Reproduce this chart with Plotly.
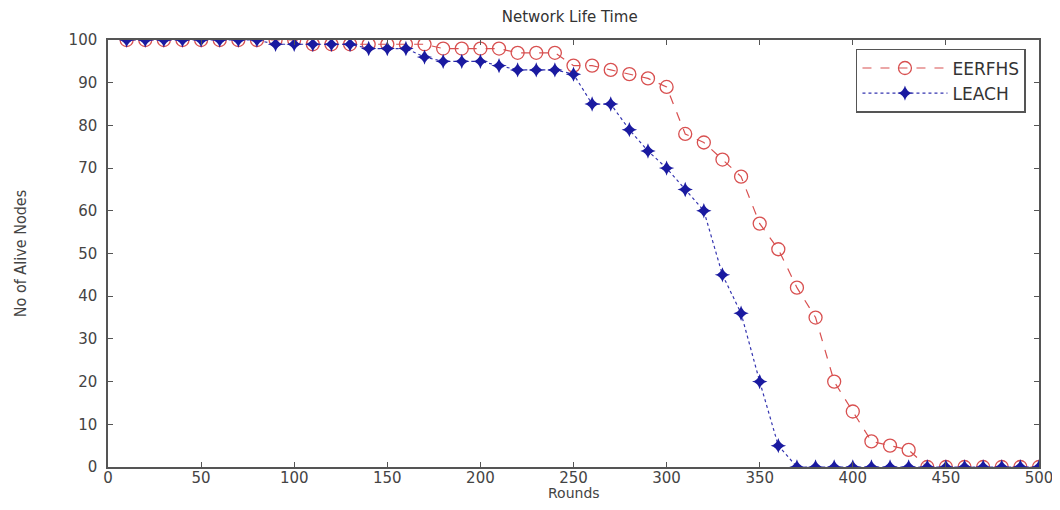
import plotly.graph_objects as go

rounds = list(range(10, 510, 10))
eerfhs = [100, 100, 100, 100, 100, 100, 100, 100, 100, 100,
          99, 99, 99, 99, 99, 99, 99, 98, 98, 98,
          98, 97, 97, 97, 94, 94, 93, 92, 91, 89,
          78, 76, 72, 68, 57, 51, 42, 35, 20, 13,
          6, 5, 4, 0, 0, 0, 0, 0, 0, 0]
leach = [100, 100, 100, 100, 100, 100, 100, 100, 99, 99,
         99, 99, 99, 98, 98, 98, 96, 95, 95, 95,
         94, 93, 93, 93, 92, 85, 85, 79, 74, 70,
         65, 60, 45, 36, 20, 5, 0, 0, 0, 0,
         0, 0, 0, 0, 0, 0, 0, 0, 0, 0]
x_ticks = list(range(0, 501, 50))
y_ticks = list(range(0, 101, 10))

TXT = "#444444"
fig = go.Figure()
fig.add_trace(go.Scatter(
    x=rounds, y=eerfhs, name="EERFHS", mode="lines+markers",
    line=dict(color="#d85050", width=1.2, dash="dash"),
    marker=dict(symbol="circle-open", size=13, color="#d85050", line=dict(width=1.3)),
))
fig.add_trace(go.Scatter(
    x=rounds, y=leach, name="LEACH", mode="lines+markers",
    line=dict(color="#3535b0", width=1.2, dash="dot"),
    marker=dict(symbol="star-diamond", size=11, color="#1a1aa0"),
))

axis_common = dict(
    showline=True, linecolor="#555555", linewidth=1.5, mirror="ticks",
    ticks="inside", ticklen=5, tickcolor="#555555", showgrid=False, zeroline=False,
    tickfont=dict(family="DejaVu Sans", size=15, color=TXT), automargin=False,
    ticklabeloverflow="allow",
)
fig.update_xaxes(range=[0, 500], tickvals=x_ticks, ticklabelstandoff=-4, **axis_common)
fig.update_yaxes(range=[0, 100], tickvals=y_ticks, ticklabelstandoff=6, **axis_common,
                 title=dict(text="No of Alive Nodes",
                            font=dict(family="DejaVu Sans Condensed, Liberation Sans Narrow, Liberation Sans", size=16, color=TXT),
                            standoff=38))

fig.add_annotation(text="Rounds", xref="paper", yref="paper", x=0.5, y=-0.061,
                   xanchor="center", yanchor="middle", showarrow=False,
                   font=dict(family="DejaVu Sans", size=14, color=TXT))

fig.update_layout(
    width=1044, height=494,
    margin=dict(l=100, r=13, t=32, b=35),
    paper_bgcolor="white", plot_bgcolor="white",
    title=dict(text="Network Life Time", x=0.538, xanchor="center", y=0.982, yanchor="middle",
               font=dict(family="DejaVu Sans", size=15, color="#333333")),
    legend=dict(x=0.986, y=0.979, xanchor="right", yanchor="top",
                bordercolor="#555555", borderwidth=1.5, bgcolor="white",
                font=dict(family="DejaVu Sans", size=17, color="#333333"),
                itemwidth=85, tracegroupgap=0),
    showlegend=True,
)

fig.write_html("out.html")
